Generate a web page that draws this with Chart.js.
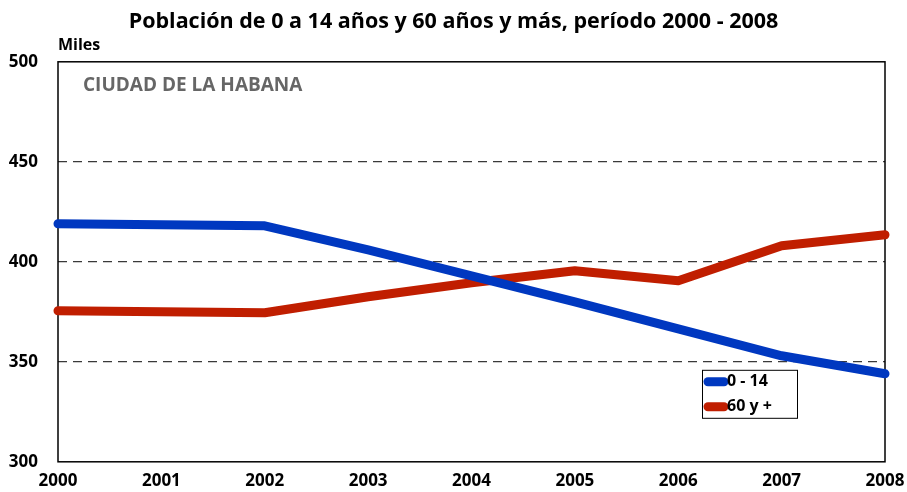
<!DOCTYPE html>
<html lang="es">
<head>
<meta charset="UTF-8">
<title>Población de 0 a 14 años y 60 años y más</title>
<script src="https://cdn.jsdelivr.net/npm/chart.js"></script>
<style>
  html, body { margin: 0; padding: 0; background: #fff; }
  #wrap { width: 907px; height: 492px; position: relative; }
</style>
</head>
<body>
<div id="wrap"><canvas id="myChart"></canvas></div>
<script>
// data (miles de personas)
const years = ['2000', '2001', '2002', '2003', '2004', '2005', '2006', '2007', '2008'];
const pop0a14 = [419, 418.5, 418, 406, 393, 380, 366.5, 353, 344];
const pop60mas = [375.5, 375, 374.5, 382.5, 389.5, 395.5, 390.5, 408, 413.5];
const seriesNames = ['0 - 14', '60 y +'];
const seriesColors = ['#0038c0', '#c01e00'];

const FONT = "'Open Sans', 'Noto Sans', sans-serif";

// frame, gray city label, "Miles" and the boxed legend
const decor = {
    id: 'decor',
    beforeDatasetsDraw(chart) {
        const { ctx, chartArea: a } = chart;
        ctx.save();
        ctx.strokeStyle = '#000';
        ctx.lineWidth = 1.5;
        ctx.strokeRect(a.left, a.top, a.right - a.left, a.bottom - a.top);
        ctx.fillStyle = '#666';
        ctx.font = 'bold 19px ' + FONT;
        ctx.textBaseline = 'middle';
        ctx.fillText('CIUDAD DE LA HABANA', a.left + 25, a.top + 24);
        ctx.fillStyle = '#000';
        ctx.font = 'bold 16px ' + FONT;
        ctx.textBaseline = 'alphabetic';
        ctx.fillText('Miles', a.left, a.top - 12);
        ctx.restore();
    },
    afterDatasetsDraw(chart) {
        const { ctx, chartArea: a } = chart;
        const x = a.right - 183, y = a.bottom - 92, w = 95, h = 48;
        ctx.save();
        ctx.fillStyle = '#fff';
        ctx.fillRect(x, y, w, h);
        ctx.strokeStyle = '#000';
        ctx.lineWidth = 1;
        ctx.strokeRect(x + 0.5, y + 0.5, w, h);
        chart.data.datasets.forEach((ds, i) => {
            const ly = y + 12 + i * 25;
            ctx.strokeStyle = ds.borderColor;
            ctx.lineWidth = 9;
            ctx.lineCap = 'round';
            ctx.beginPath();
            ctx.moveTo(x + 6, ly);
            ctx.lineTo(x + 22, ly);
            ctx.stroke();
            ctx.fillStyle = '#000';
            ctx.font = 'bold 16px ' + FONT;
            ctx.textBaseline = 'middle';
            ctx.fillText(ds.label, x + 25, ly);
        });
        ctx.restore();
    }
};

const ctx = document.getElementById('myChart').getContext('2d');
new Chart(ctx, {
    type: 'line',
    data: {
        labels: years,
        datasets: [
            { label: seriesNames[0], data: pop0a14, borderColor: seriesColors[0] },
            { label: seriesNames[1], data: pop60mas, borderColor: seriesColors[1] }
        ].map(d => Object.assign(d, {
            borderWidth: 9,
            borderCapStyle: 'round',
            borderJoinStyle: 'round',
            pointRadius: 0,
            tension: 0,
            fill: false,
            clip: false
        }))
    },
    options: {
        responsive: true,
        maintainAspectRatio: false,
        animation: false,
        layout: { padding: { left: 0, right: 0, top: 0, bottom: 0 } },
        plugins: {
            legend: { display: false },
            tooltip: { enabled: false },
            title: {
                display: true,
                text: 'Población de 0 a 14 años y 60 años y más, período 2000 - 2008',
                color: '#000',
                font: { family: FONT, size: 21.5, weight: 'bold' },
                padding: { top: 9, bottom: 27 }
            }
        },
        scales: {
            x: {
                offset: false,
                grid: { display: false, drawTicks: false },
                border: { display: false },
                ticks: {
                    color: '#000',
                    padding: 9,
                    maxRotation: 0,
                    font: { family: FONT, size: 17, weight: 'bold' }
                },
                afterFit(s) {
                    s.height = 28;
                    s.paddingLeft = 0;
                    s.paddingRight = 22;
                }
            },
            y: {
                min: 300,
                max: 500,
                border: { display: false, dash: [9, 6] },
                grid: {
                    drawTicks: false,
                    color: c => (c.tick.value === 300 || c.tick.value === 500) ? 'rgba(0,0,0,0)' : '#3a3a3a',
                    lineWidth: 1.2
                },
                ticks: {
                    stepSize: 50,
                    color: '#000',
                    padding: 20,
                    font: { family: FONT, size: 17, weight: 'bold' }
                },
                afterFit(s) { s.width = 58; }
            }
        }
    },
    plugins: [decor]
});
</script>
</body>
</html>
